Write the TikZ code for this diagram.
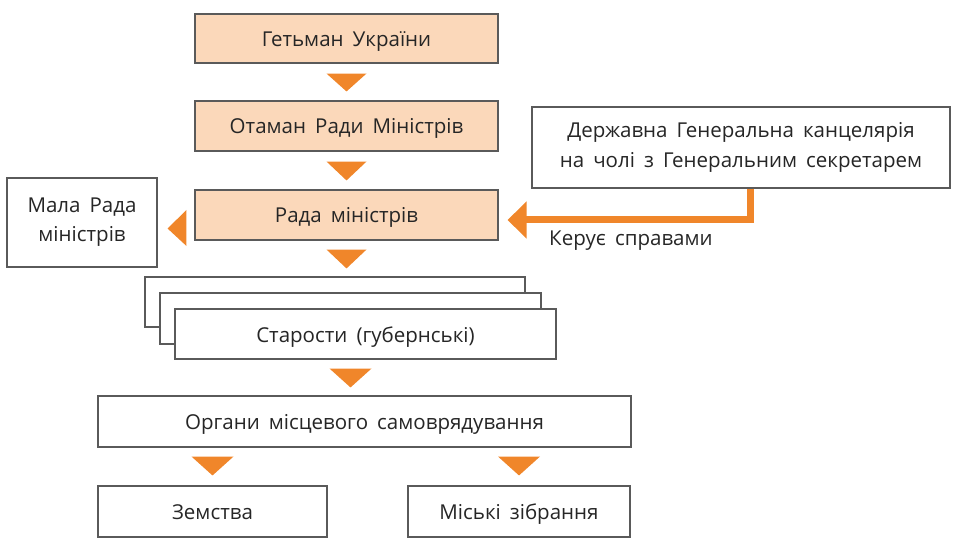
\documentclass[tikz,border=0pt]{standalone}
\usepackage{fontspec}
\setmainfont[WordSpace=1.7]{Open Sans}
\usetikzlibrary{arrows.meta, positioning, calc}
\definecolor{ukrOrange}{HTML}{F0862A}
\definecolor{ukrPeachF}{HTML}{FBD8BA}
\definecolor{ukrGrayS}{HTML}{5A5A5A}
\definecolor{ukrText}{HTML}{262626}
\tikzset{
  frame/.style={draw=ukrGrayS, line width=1.1pt, fill=white, align=center,
    text=ukrText, font=\fontsize{20.5}{29}\selectfont, inner sep=2pt},
  box/.style={frame, text height=19pt, text depth=3pt},
  peach/.style={box, fill=ukrPeachF},
  tri/.style={fill=ukrOrange},
  manage/.style={draw=ukrOrange, line width=7pt,
    -{Triangle[length=19pt, width=36pt]}},
  elabel/.style={text=ukrText, font=\fontsize{20.5}{27.5}\selectfont, inner sep=0pt},
}
\begin{document}
\begin{tikzpicture}[x=1pt, y=-1pt]
  \useasboundingbox (0,0) rectangle (960,553);

  % ---- Nodes -------------------------------------------------------------
  \node[peach, minimum width=303, minimum height=49] (het)    at (346.5,38.5) {Гетьман України};
  \node[peach, minimum width=303, minimum height=50] (otaman) at (346.5,126)  {Отаман Ради Міністрів};
  \node[peach, minimum width=303, minimum height=50] (rada)   at (346.5,215)  {Рада міністрів};
  \node[frame, minimum width=150, minimum height=89] (mala)   at (82,222.5)   {Мала Рада\\міністрів};
  \node[frame, minimum width=418, minimum height=81, font=\fontsize{20.5}{30.5}\selectfont]
    (derzh) at (741,147.5) {Державна Генеральна канцелярія\\на чолі з Генеральним секретарем};

  \node[box, minimum width=380, minimum height=50] (starA) at (335,302)   {};
  \node[box, minimum width=381, minimum height=51] (starB) at (350.5,318.5) {};
  \node[box, minimum width=381, minimum height=50] (starC) at (365.5,334) {Старости (губернські)};

  \node[box, minimum width=533, minimum height=51] (organy)  at (364.5,421.5) {Органи місцевого самоврядування};
  \node[box, minimum width=229, minimum height=51] (zemstva) at (212.5,511.5) {Земства};
  \node[box, minimum width=222, minimum height=51] (miski)   at (519,511.5)   {Міські зібрання};

  \node[elabel, anchor=base west] (keruye) at (549,245) {Керує справами};

  % ---- Edges -------------------------------------------------------------
  \fill[tri] ($(het.south)+(-20,10)$) -- ($(het.south)+(20,10)$) -- ($(otaman.north)+(0,-9)$) -- cycle;
  \fill[tri] ($(otaman.south)+(-20,10)$) -- ($(otaman.south)+(20,10)$) -- ($(rada.north)+(0,-9)$) -- cycle;
  \fill[tri] ($(rada.south)+(-20,9)$) -- ($(rada.south)+(20,9)$) -- ($(starA.north -| rada)+(0,-8)$) -- cycle;
  \fill[tri] ($(starC.south -| starB)+(-21,9)$) -- ($(starC.south -| starB)+(21,9)$) -- ($(organy.north -| starB)+(0,-8)$) -- cycle;
  \fill[tri] ($(organy.south -| zemstva)+(-21,9)$) -- ($(organy.south -| zemstva)+(21,9)$) -- ($(zemstva.north)+(0,-10)$) -- cycle;
  \fill[tri] ($(organy.south -| miski)+(-21,9)$) -- ($(organy.south -| miski)+(21,9)$) -- ($(miski.north)+(0,-10)$) -- cycle;

  % rada -> mala rada
  \fill[tri] ($(rada.west)+(-8,-5)$) -- ($(rada.west)+(-8,31)$) -- ($(mala.east)+(10,6)$) -- cycle;

  % chancellery manages the council
  \draw[manage] ($(derzh.south)+(9,0)$) |- ($(rada.east)+(9,5)$);

\end{tikzpicture}
\end{document}
